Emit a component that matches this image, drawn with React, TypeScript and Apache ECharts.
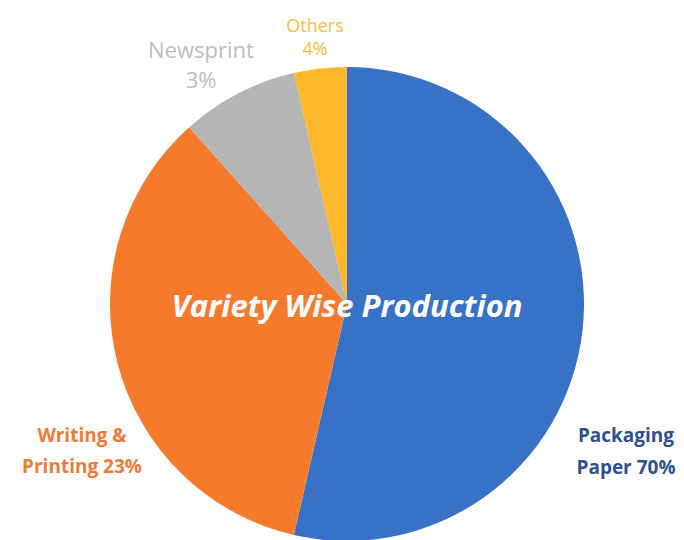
import React, { useEffect, useRef } from "react";
import * as echarts from "echarts";

const categories = ["Packaging Paper", "Writing & Printing", "Newsprint", "Others"];
// slice sizes as drawn in the picture
const sliceValues = [53.6, 34.8, 8.0, 3.6];
// label texts as printed on the picture
const labelTexts = ["Packaging\nPaper 70%", "Writing &\nPrinting 23%", "Newsprint\n3%", "Others\n4%"];
const sliceColors = ["#3872C6", "#F57A2C", "#B5B5B5", "#FDB92A"];
const labelColors = ["#2E4F91", "#EE7B35", "#BDBDBD", "#F6BE3C"];
const labelPos = [
  [626, 451],
  [82, 450],
  [201, 64],
  [315, 36],
];
const labelSizes = [19, 19, 22, 18];
const labelLH = [32, 31, 30, 23];
const labelWeights = ["bold", "bold", "normal", "normal"];
const title = "Variety Wise Production";

export default function App() {
  const ref = useRef<HTMLDivElement>(null);
  useEffect(() => {
    document.body.style.margin = "0";
    const chart = echarts.init(ref.current!, null, { renderer: "svg" });
    chart.setOption({
      animation: false,
      backgroundColor: "#ffffff",
      graphic: [
        {
          type: "text",
          x: 347,
          y: 305,
          z: 100,
          style: {
            text: title,
            fill: "#ffffff",
            align: "center",
            verticalAlign: "middle",
            font: "italic bold 31px 'Open Sans', Lato, sans-serif",
          },
        },
      ],
      series: [
        {
          type: "pie",
          center: [347, 304],
          radius: 237,
          startAngle: 90,
          clockwise: true,
          silent: true,
          itemStyle: { borderWidth: 0 },
          labelLine: { show: false },
          data: categories.map((c, i) => ({
            name: c,
            value: sliceValues[i],
            itemStyle: { color: sliceColors[i] },
            label: {
              show: true,
              position: "outside",
              formatter: labelTexts[i],
              color: labelColors[i],
              fontSize: labelSizes[i],
              lineHeight: labelLH[i],
              fontWeight: labelWeights[i],
              fontFamily: "'Open Sans', Lato, sans-serif",
              align: "center",
              overflow: "none",
              width: 200,
            },
          })),
          labelLayout: (params: any) => ({
            x: labelPos[params.dataIndex][0],
            y: labelPos[params.dataIndex][1],
            align: "center",
            verticalAlign: "middle",
          }),
        },
      ],
    });
    return () => chart.dispose();
  }, []);
  return <div ref={ref} style={{ width: 684, height: 540 }} />;
}
